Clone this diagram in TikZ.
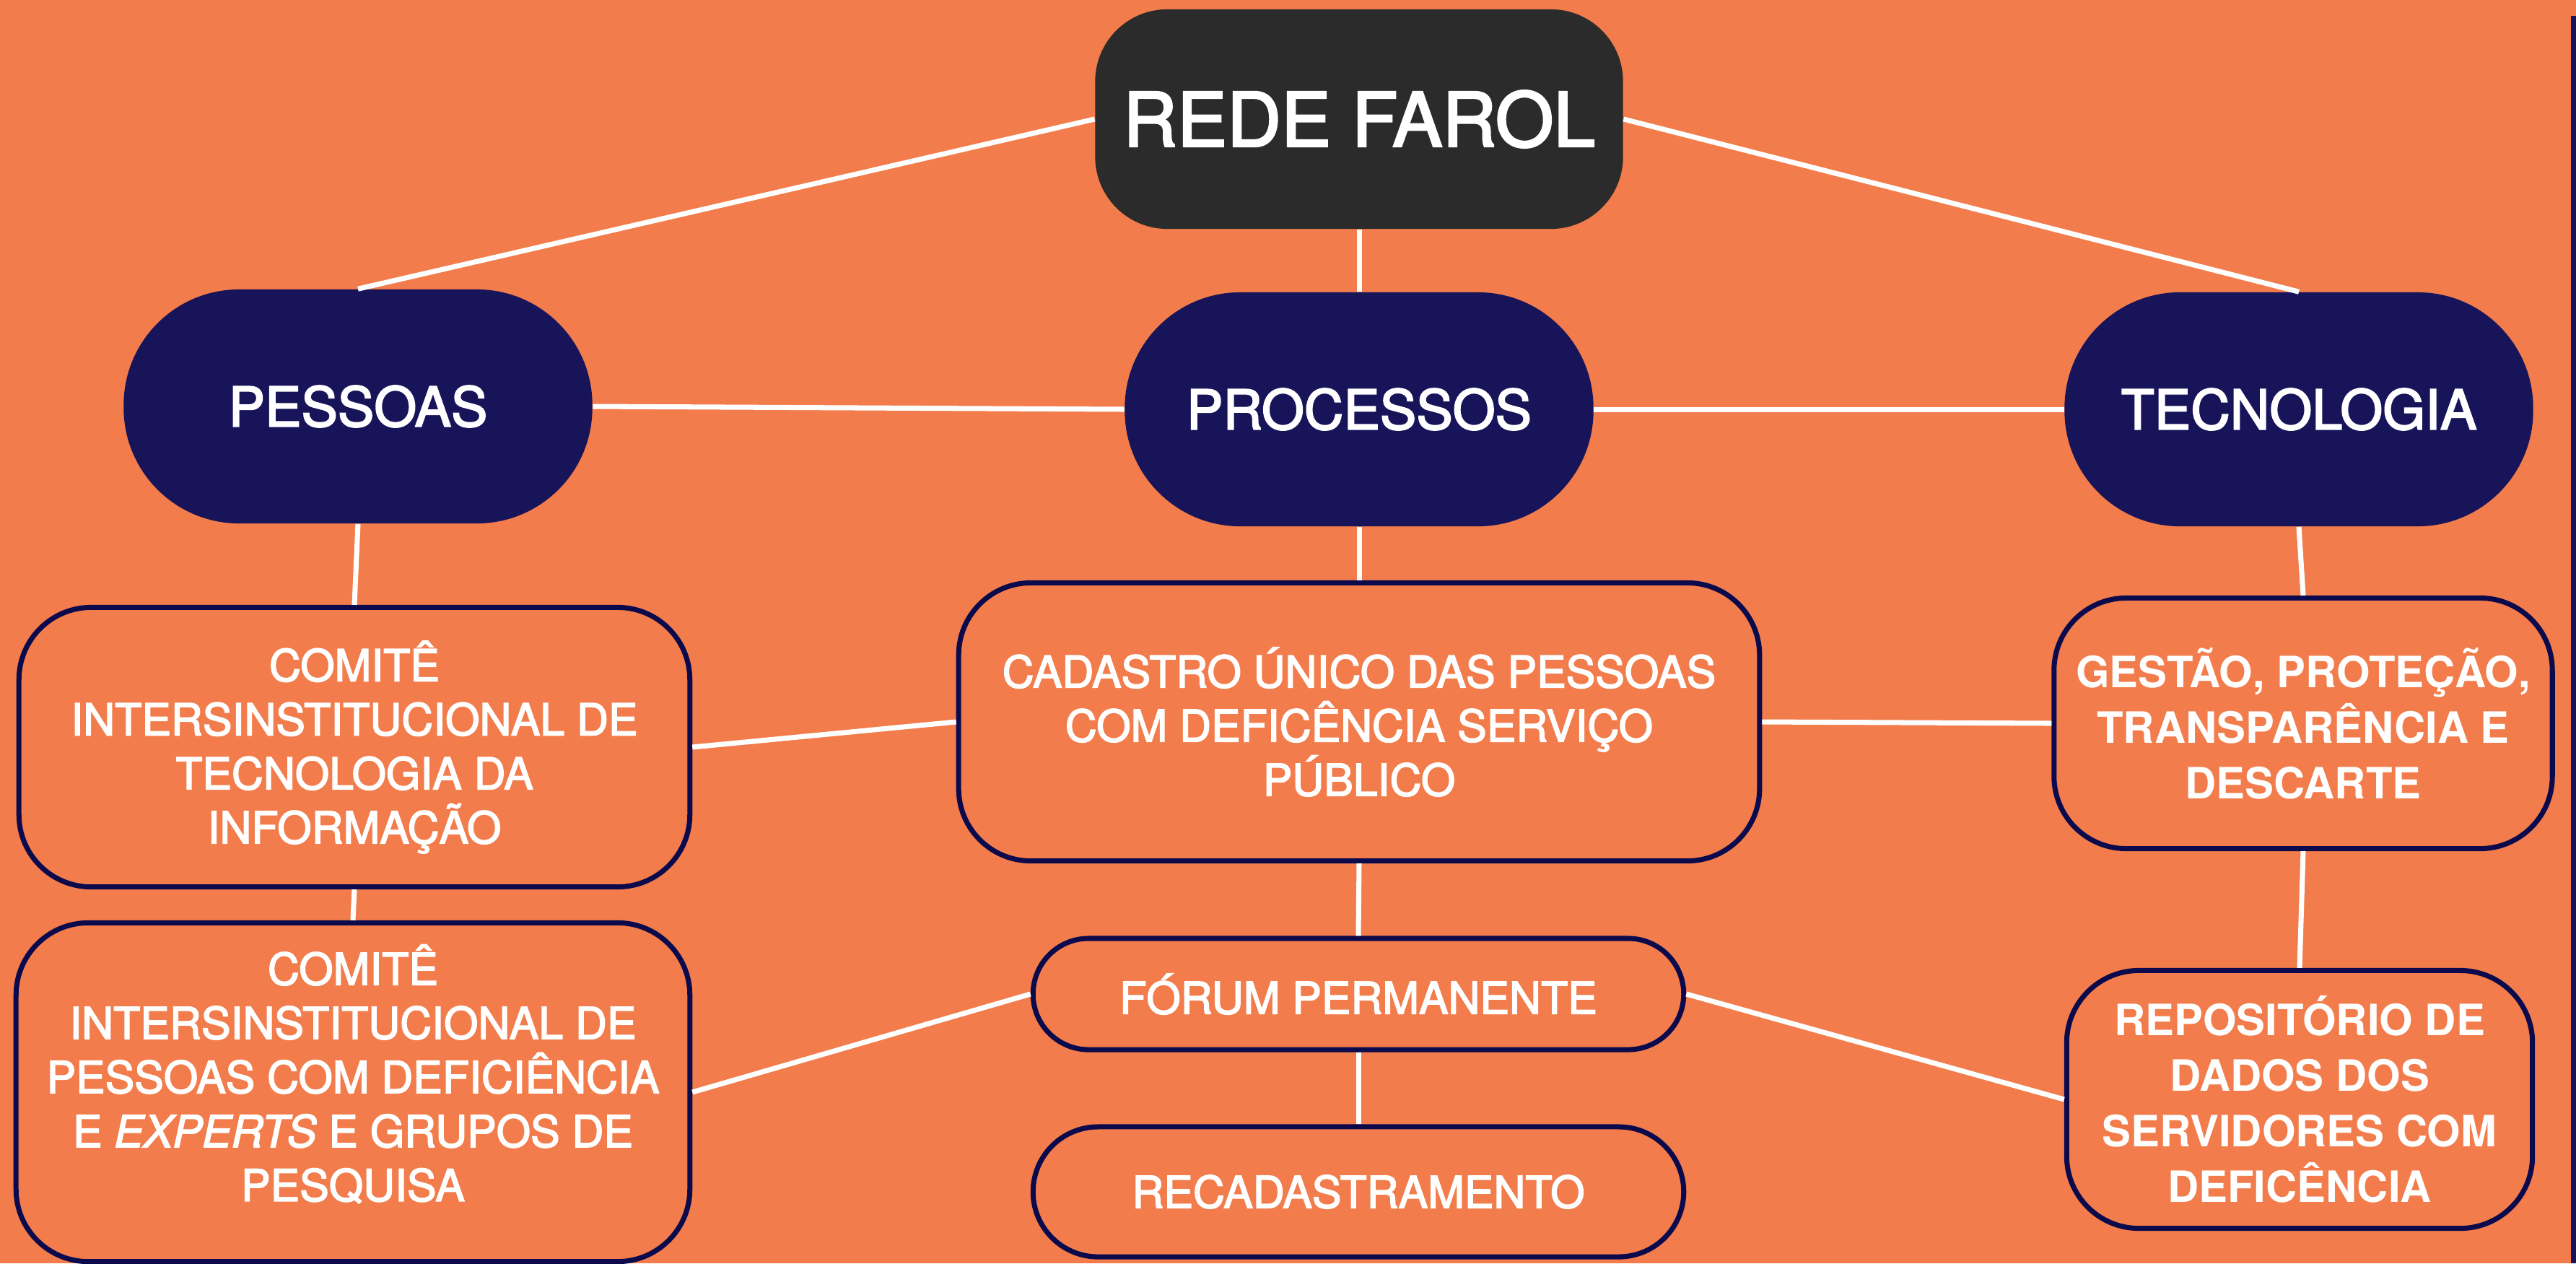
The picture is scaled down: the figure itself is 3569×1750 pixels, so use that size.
\documentclass[tikz,border=0pt]{standalone}
\usepackage{fontspec}
\setmainfont{TeX Gyre Heros}
\newfontfamily\medfont[FakeBold=2.6]{TeX Gyre Heros}
\definecolor{bgorange}{HTML}{F27C4B}
\definecolor{navyfill}{HTML}{17145A}
\definecolor{navyline}{HTML}{0B0A4C}
\definecolor{darkfill}{HTML}{2A2B2A}
\tikzset{
  topbox/.style={fill=darkfill, rounded corners=1cm, minimum width=7.31cm, minimum height=3.04cm,
    text=white, inner sep=0pt, font=\medfont\fontsize{29.5}{34}\selectfont},
  pillbox/.style={fill=navyfill, rounded corners=1.6cm, minimum width=6.49cm, minimum height=3.24cm,
    text=white, inner sep=0pt, font=\medfont\fontsize{21.5}{26}\selectfont},
  obox/.style={fill=bgorange, draw=navyline, line width=2pt, rounded corners=1cm, text=white,
    align=center, inner sep=0pt, font=\medfont\fontsize{17.3}{21.3}\selectfont},
  boldtext/.style={font=\fontsize{17}{21.9}\selectfont\bfseries},
  link/.style={draw=white, line width=2pt}
}
\begin{document}
\begin{tikzpicture}[x=0.01cm,y=-0.01cm]
\fill[bgorange] (0,0) rectangle (3569,1750);
\fill[navyfill] (3562,22) rectangle (3569,1750);
\useasboundingbox (0,0) rectangle (3569,1750);

\node[topbox] (rede) at (1883,165) {REDE FAROL};
\node[pillbox] (pess) at (496,563) {PESSOAS};
\node[pillbox] (proc) at (1883,567) {PROCESSOS};
\node[pillbox] (tec) at (3185,567) {TECNOLOGIA};

\node[obox, minimum width=9.29cm, minimum height=3.87cm] (c1) at (491,1035)
  {COMITÊ\\INTERSINSTITUCIONAL DE\\TECNOLOGIA DA\\INFORMAÇÃO};
\node[obox, minimum width=9.33cm, minimum height=4.69cm] (c2) at (489,1513)
  {COMITÊ\\INTERSINSTITUCIONAL DE\\PESSOAS COM DEFICIÊNCIA\\E \textit{EXPERTS} E GRUPOS DE\\PESQUISA\\[-6pt]\mbox{}};
\node[obox, minimum width=11.09cm, minimum height=3.85cm] (cad) at (1883,1000)
  {CADASTRO ÚNICO DAS PESSOAS\\COM DEFICÊNCIA SERVIÇO\\PÚBLICO};
\node[obox, rounded corners=0.77cm, minimum width=9.01cm, minimum height=1.54cm] (forum) at (1882,1377)
  {FÓRUM PERMANENTE};
\node[obox, rounded corners=0.9cm, minimum width=9.01cm, minimum height=1.80cm] (recad) at (1882,1651)
  {RECADASTRAMENTO};
\node[obox, boldtext, minimum width=6.90cm, minimum height=3.47cm] (gest) at (3191,1002)
  {GESTÃO, PROTEÇÃO,\\TRANSPARÊNCIA E\\DESCARTE};
\node[obox, boldtext, minimum width=6.45cm, minimum height=3.57cm] (repo) at (3186,1523)
  {REPOSITÓRIO DE\\DADOS DOS\\SERVIDORES COM\\DEFICÊNCIA};

\draw[link] (rede.west) -- (pess.north);
\draw[link] (rede.east) -- (tec.north);
\draw[link] (rede.south) -- (proc.north);
\draw[link] (pess.east) -- (proc.west);
\draw[link] (proc.east) -- (tec.west);
\draw[link] (pess.south) -- (c1.north);
\draw[link] (c1.south) -- (c2.north);
\draw[link] (c1.east) -- (cad.west);
\draw[link] (proc.south) -- (cad.north);
\draw[link] (cad.south) -- (forum.north);
\draw[link] (forum.south) -- (recad.north);
\draw[link] (forum.west) -- (c2.east);
\draw[link] (forum.east) -- (repo.west);
\draw[link] (cad.east) -- (gest.west);
\draw[link] (tec.south) -- (gest.north);
\draw[link] (gest.south) -- (repo.north);
\end{tikzpicture}
\end{document}
